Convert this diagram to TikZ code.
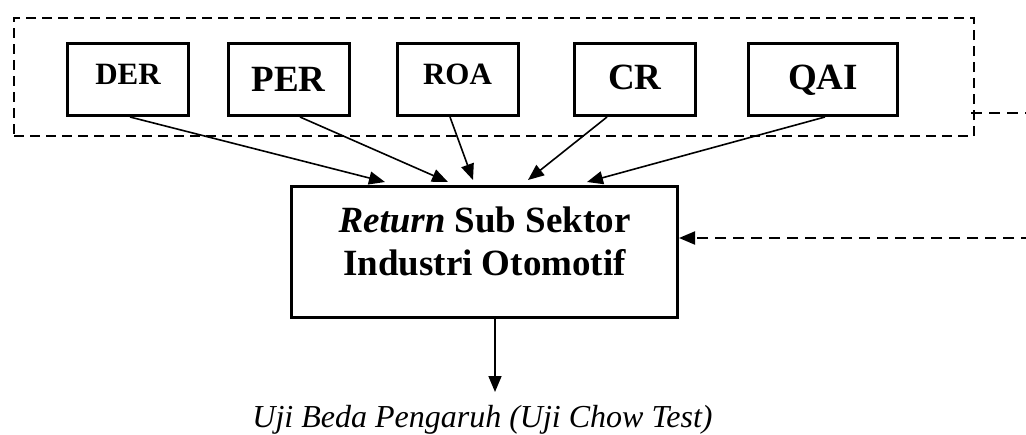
\documentclass[tikz,border=0pt]{standalone}
\usepackage{fontspec}
\setmainfont{Liberation Serif}
\usetikzlibrary{arrows.meta,calc}
\begin{document}
\begin{tikzpicture}[x=1pt,y=-1pt,
  varbox/.style={draw, line width=3pt, inner sep=0pt, minimum width=121pt, minimum height=72pt},
  bigtxt/.style={font=\fontsize{37}{43}\selectfont\bfseries},
  smalltxt/.style={font=\fontsize{31}{36}\selectfont\bfseries},
  groupbox/.style={draw, line width=2pt, dash pattern=on 10pt off 6pt, inner sep=0pt},
  link/.style={-{Triangle[length=16pt,width=13pt]}, line width=1.6pt},
  feedback/.style={line width=2pt, dash pattern=on 11pt off 7pt}
]
\useasboundingbox (0,0) rectangle (1026,434);

% dashed frame around the independent variables
\node[groupbox, minimum width=960pt, minimum height=118pt] (grp) at (494,77) {};

% independent variables
\node[varbox, smalltxt, text depth=11pt] (der) at (128,79.5) {DER};
\node[varbox, bigtxt, text depth=0pt] (per) at (288.5,79.5) {PER};
\node[varbox, smalltxt, text depth=11pt] (roa) at (457.5,79.5) {ROA};
\node[varbox, bigtxt, text depth=4pt] (cr) at (635,79.5) {CR};
\node[varbox, bigtxt, text depth=4pt, minimum width=149pt] (qai) at (823,79.5) {QAI};

% dependent variable
\node[draw, line width=3pt, inner sep=0pt, minimum width=386pt, minimum height=131pt] (main) at (484.5,252) {};
\node[bigtxt, align=center, inner sep=0pt] (mainlbl) at (484.5,241) {\textit{Return} Sub Sektor\\Industri Otomotif};

% test label
\node[font=\fontsize{32}{38}\selectfont\itshape, anchor=base, inner sep=0pt] (uji) at (482.5,427) {Uji Beda Pengaruh (Uji Chow Test)};

% arrows into the dependent variable
\draw[link] ([xshift=2pt]der.south) -- ([xshift=-99.5pt,yshift=3pt]main.north);
\draw[link] ([xshift=11.5pt]per.south) -- ([xshift=-36.5pt,yshift=3pt]main.north);
\draw[link] ([xshift=-7.5pt]roa.south) -- ([xshift=-11.5pt,yshift=5pt]main.north);
\draw[link] ([xshift=-28pt]cr.south) -- ([xshift=43.5pt,yshift=5pt]main.north);
\draw[link] ([xshift=2pt]qai.south) -- ([xshift=102.5pt,yshift=3pt]main.north);

% arrow down to the test
\coordinate (dn) at (495,392);
\draw[link] (main.south -| dn) -- (dn);

% feedback path on the right
\coordinate (fb1) at (1032,113);
\coordinate (fb2) at (1032,238);
\draw[feedback] ([xshift=-4pt]fb1 -| grp.east) -- (fb1);
\draw[feedback, -{Triangle[length=16pt,width=13pt]}] (fb2) -- (fb2 -| main.east);
\end{tikzpicture}
\end{document}
